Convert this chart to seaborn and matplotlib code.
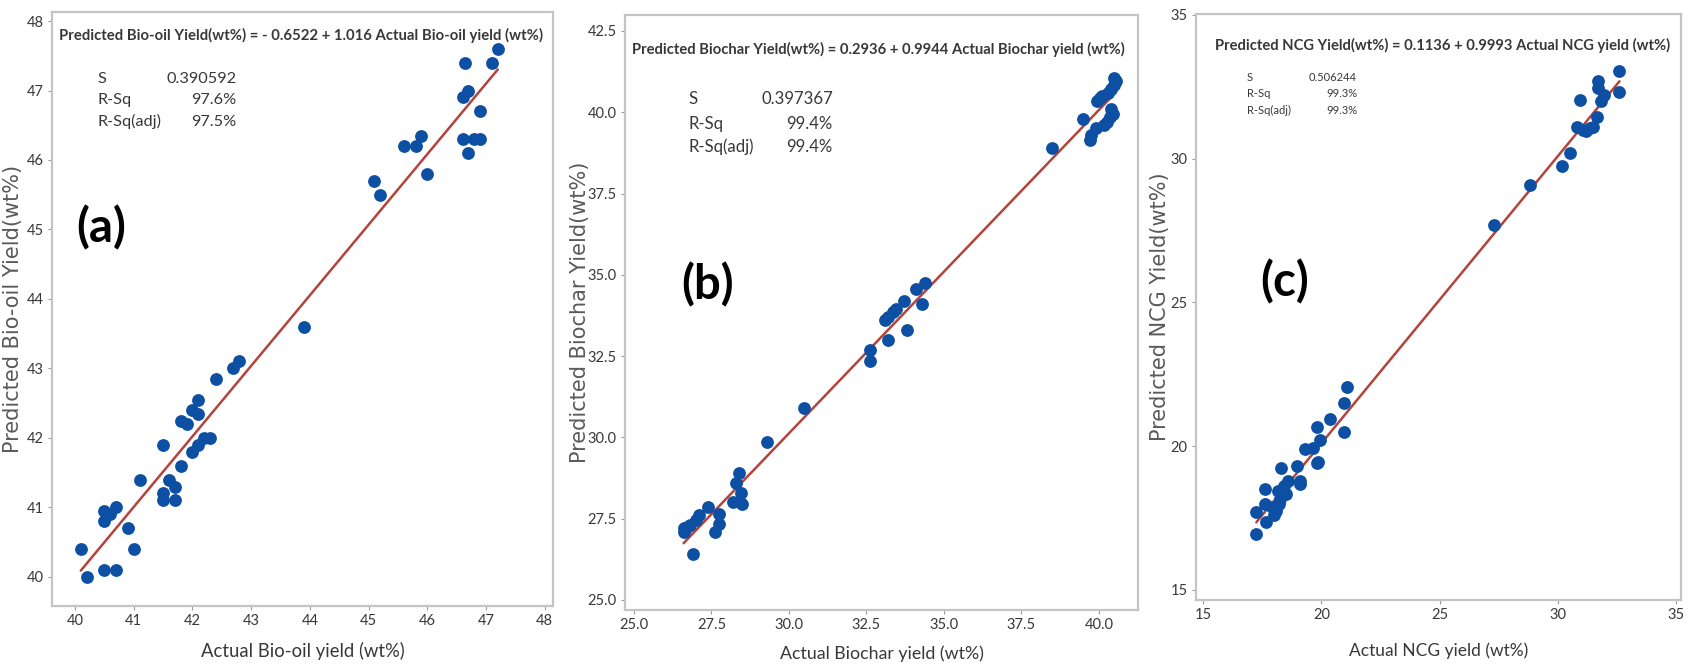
import numpy as np
import pandas as pd
import matplotlib
matplotlib.use("Agg")
import matplotlib.pyplot as plt
import seaborn as sns

# ---------------- data ----------------
# (a) Bio-oil
bio_actual = [40.1, 40.2, 40.5, 40.7, 40.5, 40.5, 40.6, 40.7, 40.9, 41.0, 41.1, 41.5, 41.5, 41.5,
              41.6, 41.7, 41.7, 41.8, 42.0, 42.1, 42.2, 42.3, 41.8, 41.9, 42.0, 42.1, 42.1, 42.4,
              42.7, 42.8, 43.9, 45.1, 45.2, 45.6, 45.8, 45.9, 46.0, 46.6, 46.7, 46.65, 46.6, 46.7,
              46.9, 46.8, 46.9, 47.1, 47.2]
bio_pred = [40.4, 40.0, 40.1, 40.1, 40.95, 40.8, 40.9, 41.0, 40.7, 40.4, 41.4, 41.9, 41.2, 41.1,
            41.4, 41.3, 41.1, 41.6, 41.8, 41.9, 42.0, 42.0, 42.25, 42.2, 42.4, 42.55, 42.35, 42.85,
            43.0, 43.1, 43.6, 45.7, 45.5, 46.2, 46.2, 46.35, 45.8, 46.9, 47.0, 47.4, 46.3, 46.1,
            46.7, 46.3, 46.3, 47.4, 47.6]
bio_coef = [-0.6522, 1.016]
bio_stats = ["0.390592", "97.6%", "97.5%"]

# (b) Biochar
char_actual = [26.6, 26.6, 26.7, 26.8, 27.0, 27.1, 26.9, 27.4, 27.6, 27.75, 27.75, 28.2, 28.3, 28.4,
               28.45, 28.5, 29.3, 30.5, 32.6, 32.6, 33.1, 33.2, 33.35, 33.45, 33.7, 33.8, 34.1, 34.3,
               34.4, 33.2, 38.5, 39.5, 39.7, 39.75, 39.9, 39.95, 40.05, 40.1, 40.15, 40.25, 40.3,
               40.35, 40.4, 40.4, 40.45, 40.5, 40.55, 40.5]
char_pred = [27.1, 27.2, 27.25, 27.3, 27.45, 27.6, 26.4, 27.85, 27.1, 27.35, 27.65, 28.0, 28.6, 28.9,
             28.3, 27.95, 29.85, 30.9, 32.7, 32.35, 33.6, 33.0, 33.85, 33.95, 34.2, 33.3, 34.55, 34.1,
             34.75, 33.7, 38.9, 39.8, 39.15, 39.3, 39.5, 40.35, 40.45, 40.5, 39.6, 39.7, 40.6, 39.85,
             40.7, 40.1, 39.95, 40.85, 40.95, 41.05]
char_coef = [0.2936, 0.9944]
char_stats = ["0.397367", "99.4%", "99.4%"]

# (c) NCG
ncg_actual = [17.25, 17.65, 17.25, 17.6, 17.6, 18.1, 18.15, 18.3, 18.25, 18.5, 18.6, 18.95, 19.1,
              19.3, 19.65, 19.8, 19.85, 19.95, 20.35, 20.95, 20.95, 21.1, 18.2, 18.0, 17.9, 18.4,
              19.1, 19.8, 27.3, 28.8, 30.15, 30.5, 30.8, 30.95, 31.05, 31.2, 31.35, 31.5, 31.65,
              31.7, 31.7, 31.8, 31.95, 32.6, 32.6]
ncg_pred = [16.95, 17.35, 17.7, 18.0, 18.5, 17.75, 18.45, 19.25, 18.15, 18.35, 18.8, 19.3, 18.8,
            19.9, 19.95, 20.65, 19.45, 20.2, 20.95, 21.5, 20.5, 22.05, 18.0, 17.6, 17.9, 18.6,
            18.7, 19.4, 27.7, 29.1, 29.75, 30.2, 31.1, 32.05, 31.0, 30.95, 31.05, 31.1, 31.45,
            32.7, 32.45, 32.0, 32.2, 33.05, 32.3]
ncg_coef = [0.1136, 0.9993]
ncg_stats = ["0.506244", "99.3%", "99.3%"]

stat_names = ["S", "R-Sq", "R-Sq(adj)"]
panel_letters = ["(a)", "(b)", "(c)"]
titles = [
    "Predicted Bio-oil Yield(wt%) = - 0.6522 + 1.016 Actual Bio-oil yield (wt%)",
    "Predicted Biochar Yield(wt%) = 0.2936 + 0.9944 Actual Biochar yield (wt%)",
    "Predicted NCG Yield(wt%) = 0.1136 + 0.9993 Actual NCG yield (wt%)",
]
xlabels = ["Actual Bio-oil yield (wt%)", "Actual Biochar yield (wt%)", "Actual NCG yield (wt%)"]
ylabels = ["Predicted Bio-oil Yield(wt%)", "Predicted Biochar Yield(wt%)", "Predicted NCG Yield(wt%)"]
xticks = [[40, 41, 42, 43, 44, 45, 46, 47, 48],
          [25.0, 27.5, 30.0, 32.5, 35.0, 37.5, 40.0],
          [15, 20, 25, 30, 35]]
yticks = [[40, 41, 42, 43, 44, 45, 46, 47, 48],
          [25.0, 27.5, 30.0, 32.5, 35.0, 37.5, 40.0, 42.5],
          [15, 20, 25, 30, 35]]
tick_fmt = ["{:.0f}", "{:.1f}", "{:.0f}"]

# ---------------- style ----------------
sns.set_theme(style="white")
MAIN = ['Lato', 'DejaVu Sans']
plt.rcParams['font.family'] = MAIN

POINT = "#0c4fa3"
LINE = "#b3443c"
TXT = "#383838"
SPINE = "#c4c4c4"

fig = plt.figure(figsize=(16.87, 6.71), dpi=100)
W, H = 1687, 671
renderer = fig.canvas.get_renderer()


def fit_width(txt, target_px):
    bb = txt.get_window_extent(renderer)
    if bb.width > 0:
        txt.set_fontsize(txt.get_fontsize() * target_px / bb.width)


frames = [(52, 553, 12, 606), (625, 1138, 15, 610), (1196, 1681, 14, 600)]
xlims = [(39.61, 48.14), (24.71, 41.26), (14.7, 35.2)]
ylims = [(39.58, 48.13), (24.69, 42.99), (14.65, 35.03)]
title_pos = [(0.014, 0.961), (0.014, 0.942), (0.04, 0.947)]
title_w = [484, 492, 455]
stat_pos = [(0.09, 0.369, [0.887, 0.852, 0.815]),
            (0.123, 0.405, [0.859, 0.817, 0.778]),
            (0.105, 0.332, [0.891, 0.864, 0.836])]
stat_w = [64, 66, 44]
letter_pos = [(0.098, 0.636), (0.16, 0.546), (0.183, 0.543)]
ylab_x = [-0.058, -0.068, -0.054]
xlab_y = [-0.061, -0.059, -0.072]
xlab_w = [205, 205, 180]

datasets = [(bio_actual, bio_pred, bio_coef, bio_stats),
            (char_actual, char_pred, char_coef, char_stats),
            (ncg_actual, ncg_pred, ncg_coef, ncg_stats)]

for i, (xa, yp, coef, stats) in enumerate(datasets):
    l, r, t, b = frames[i]
    ax = fig.add_axes([l / W, 1 - b / H, (r - l) / W, (b - t) / H])
    df = pd.DataFrame({"actual": xa, "pred": yp})
    xs = np.array([min(xa), max(xa)])
    line_df = pd.DataFrame({"actual": xs, "pred": coef[0] + coef[1] * xs})
    sns.lineplot(data=line_df, x="actual", y="pred", ax=ax, color=LINE, lw=1.8, zorder=2)
    sns.scatterplot(data=df, x="actual", y="pred", ax=ax, color=POINT, s=85,
                    linewidth=0, zorder=3)
    ax.set_xlim(*xlims[i])
    ax.set_ylim(*ylims[i])
    ax.set_xticks(xticks[i])
    ax.set_yticks(yticks[i])
    ax.set_xticklabels([tick_fmt[i].format(v) for v in xticks[i]])
    ax.set_yticklabels([tick_fmt[i].format(v) for v in yticks[i]])
    ax.tick_params(axis="both", which="both", direction="out", length=3, width=0.8,
                   color="#999999", labelsize=10.5, labelcolor=TXT, pad=3,
                   bottom=True, left=True)
    for s in ax.spines.values():
        s.set_color(SPINE)
        s.set_linewidth(1.6)

    xl = ax.set_xlabel(xlabels[i], fontsize=14, color=TXT)
    ax.xaxis.set_label_coords(0.5, xlab_y[i])
    fit_width(xl, xlab_w[i])

    ax.set_ylabel(ylabels[i], fontsize=15, color="#5a5a5a", family=['DejaVu Sans'])
    ax.yaxis.set_label_coords(ylab_x[i], 0.5)

    tx, ty = title_pos[i]
    tt = ax.text(tx, ty, titles[i], transform=ax.transAxes, fontsize=10, color=TXT,
                 fontweight="bold", ha="left", va="center")
    fit_width(tt, title_w[i])

    sx, vx, sys_ = stat_pos[i]
    probe = ax.text(sx, sys_[2], stat_names[2], transform=ax.transAxes, fontsize=10,
                    color=TXT, ha="left", va="center")
    fit_width(probe, stat_w[i])
    sfs = probe.get_fontsize()
    for name, val, yy in zip(stat_names, stats, sys_):
        if name != stat_names[2]:
            ax.text(sx, yy, name, transform=ax.transAxes, fontsize=sfs, color=TXT,
                    ha="left", va="center")
        ax.text(vx, yy, val, transform=ax.transAxes, fontsize=sfs, color=TXT,
                ha="right", va="center")

    lx, ly = letter_pos[i]
    ax.text(lx, ly, panel_letters[i], transform=ax.transAxes, fontsize=34,
            fontweight="bold", color="black", ha="center", va="center")

fig.savefig("out.png", dpi=100)
